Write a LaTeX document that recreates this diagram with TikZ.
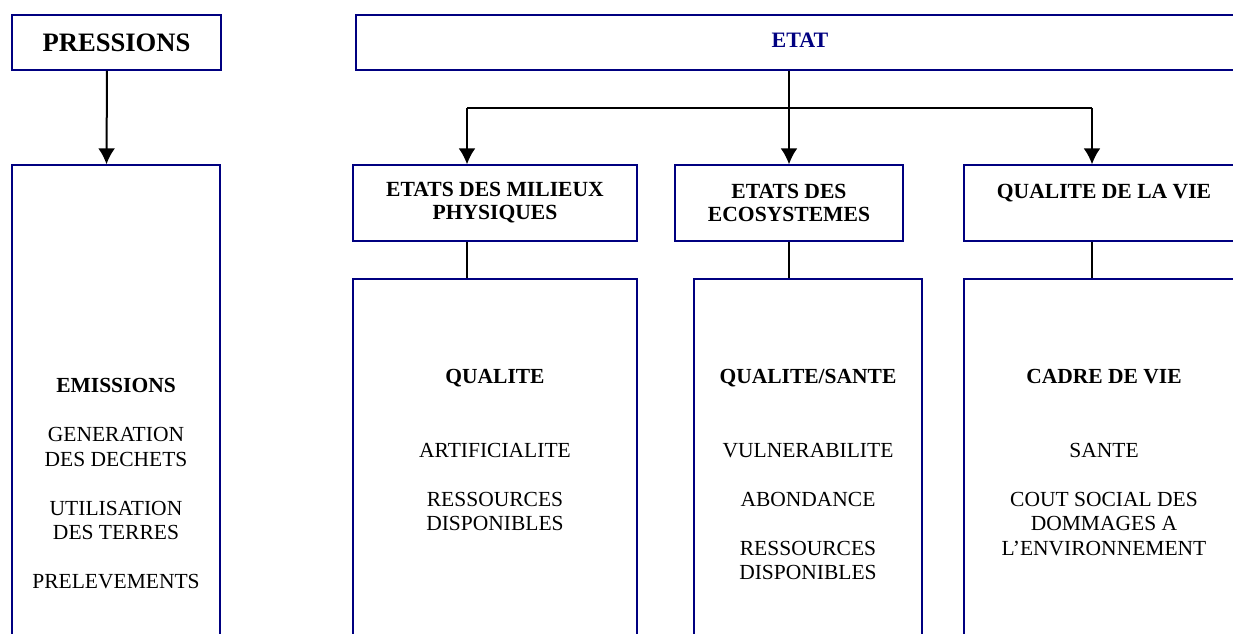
\documentclass[tikz,border=0pt]{standalone}
\usepackage{fontspec}
\setmainfont{Liberation Serif}
\usetikzlibrary{arrows.meta}
\definecolor{bleu}{RGB}{0,0,128}

\tikzstyle{box}=[draw=bleu, line width=0.7pt, inner sep=0pt, align=center, font=\bfseries\fontsize{10.8}{11.5}\selectfont]
\tikzstyle{items}=[inner sep=0pt, align=center, anchor=north, font=\fontsize{10.75}{12.25}\selectfont]
\tikzstyle{arrow}=[line width=1pt, -{Latex[length=8pt, width=8.5pt]}]
\tikzstyle{link}=[line width=0.65pt]

\begin{document}
\begin{tikzpicture}[x=0.5pt, y=-0.5pt]
      \useasboundingbox (0,0) rectangle (1233,633);
      \clip (0,0) rectangle (1233,633);

      \node[box, minimum width=104.5pt, minimum height=27.5pt, font=\bfseries\fontsize{13.3}{16}\selectfont] (pres) at (116.5,42.5) {PRESSIONS};
      \node[box, minimum width=444pt, minimum height=27.5pt, text=bleu, text depth=2.5pt, font=\bfseries\fontsize{11}{13}\selectfont] (etat) at (800,42.5) {ETAT};

      \node[box, minimum width=142pt, minimum height=38pt] (milieux) at (495,203) {ETATS DES MILIEUX\\PHYSIQUES};
      \node[box, minimum width=114pt, minimum height=38pt] (ecosys) at (789,203) {ETATS DES\\ECOSYSTEMES};
      \node[box, minimum width=140pt, minimum height=38pt] (qdv) at (1104,203) {QUALITE DE LA VIE\\ \mbox{}};

      \node[box, minimum width=104pt, minimum height=267.5pt] (emisbox) at (116,432.5) {};
      \node[box, minimum width=142pt, minimum height=210.5pt] (milbox) at (495,489.5) {};
      \node[box, minimum width=114pt, minimum height=210.5pt] (ecobox) at (808,489.5) {};
      \node[box, minimum width=140pt, minimum height=210.5pt] (qdvbox) at (1104,489.5) {};

      \node[items] (emis) at (116,378) {\textbf{EMISSIONS}\\[12.25pt] GENERATION\\DES DECHETS\\[12.25pt] UTILISATION\\DES TERRES\\[12.25pt] PRELEVEMENTS};
      \node[items] (qual) at (495,369) {\textbf{QUALITE}\\[24.5pt] ARTIFICIALITE\\[12.25pt] RESSOURCES\\DISPONIBLES};
      \node[items] (sante) at (808,369) {\textbf{QUALITE/SANTE}\\[24.5pt] VULNERABILITE\\[12.25pt] ABONDANCE\\[12.25pt] RESSOURCES\\DISPONIBLES};
      \node[items] (cadre) at (1104,369) {\textbf{CADRE DE VIE}\\[24.5pt] SANTE\\[12.25pt] COUT SOCIAL DES\\DOMMAGES A\\L’ENVIRONNEMENT};

      \coordinate (brM) at (467,108);
      \coordinate (brE) at (789,108);
      \coordinate (brQ) at (1092,108);

      \draw[arrow] ([xshift=-4.75pt]pres.south) to ([xshift=-4.75pt]emisbox.north);
      \draw[arrow] (etat.south -| brE) to (ecosys.north);
      \draw[link] (brM) to (brQ);
      \draw[arrow] (brM) to (milieux.north -| brM);
      \draw[arrow] (brQ) to (qdv.north -| brQ);
      \draw[link] (milieux.south -| brM) to (milbox.north -| brM);
      \draw[link] (ecosys.south) to (ecobox.north -| ecosys.south);
      \draw[link] (qdv.south -| brQ) to (qdvbox.north -| brQ);
    \end{tikzpicture}
\end{document}
